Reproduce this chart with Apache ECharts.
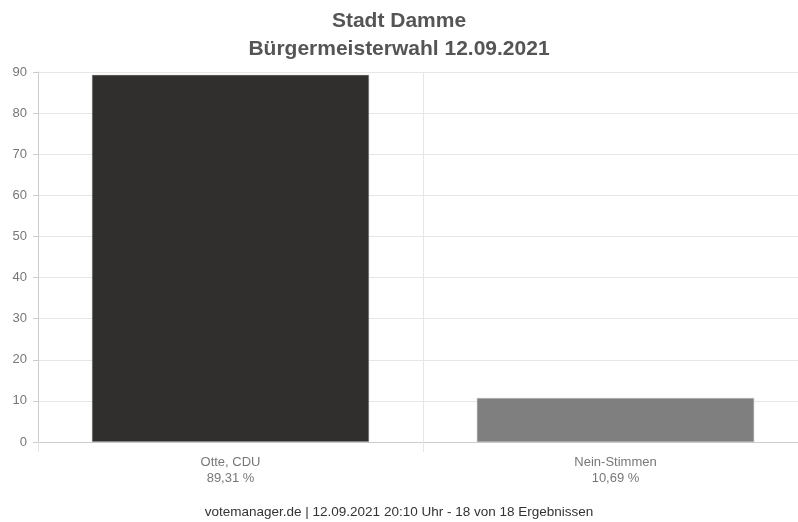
<!DOCTYPE html>
<html><head><meta charset="utf-8">
<script src="https://cdn.jsdelivr.net/npm/echarts@6/dist/echarts.min.js"></script>
<style>html,body{margin:0;padding:0;background:#fff}#c{width:798px;height:522px}</style>
</head><body><div id="c"></div>
<script>
const categories = ['Otte, CDU', 'Nein-Stimmen'];
const percentLabels = ['89,31 %', '10,69 %'];
const values = [89.31, 10.69];
const colors = ['#312f2d', '#7f7f7f'];
const yTicks = {min: 0, max: 90, interval: 10};

const chart = echarts.init(document.getElementById('c'));
chart.setOption({
  animation: false,
  textStyle: {fontFamily: 'Liberation Sans, Arial, sans-serif'},
  title: [{
    text: 'Stadt Damme\nBürgermeisterwahl 12.09.2021',
    left: 'center', top: 2,
    textStyle: {fontSize: 21, fontWeight: 'bold', color: '#555', lineHeight: 28}
  }, {
    text: 'votemanager.de | 12.09.2021 20:10 Uhr - 18 von 18 Ergebnissen',
    left: 'center', top: 500,
    textStyle: {fontSize: 13.5, fontWeight: 'normal', color: '#333'}
  }],
  grid: {left: 38, top: 72, width: 770, height: 370, outerBoundsMode: 'none', containLabel: false},
  xAxis: {
    type: 'category',
    data: categories.map((c, i) => c + '\n' + percentLabels[i]),
    axisLine: {lineStyle: {color: '#ccc'}},
    axisTick: {show: true, length: 10, lineStyle: {color: '#e6e6e6'}},
    splitLine: {show: true, lineStyle: {color: '#e6e6e6'}},
    axisLabel: {color: '#777', fontSize: 13, lineHeight: 16, margin: 12}
  },
  yAxis: {
    type: 'value', min: yTicks.min, max: yTicks.max, interval: yTicks.interval,
    axisLine: {show: true, lineStyle: {color: '#ccc'}},
    axisTick: {show: true, length: 5, lineStyle: {color: '#ccc'}},
    splitLine: {lineStyle: {color: '#e6e6e6'}},
    axisLabel: {color: '#777', fontSize: 13, margin: 11}
  },
  series: [{
    type: 'bar',
    barWidth: '72%',
    data: values.map((v, i) => ({value: v, itemStyle: {color: colors[i], borderColor: '#bbb', borderWidth: 0.5}}))
  }]
});
</script></body></html>
